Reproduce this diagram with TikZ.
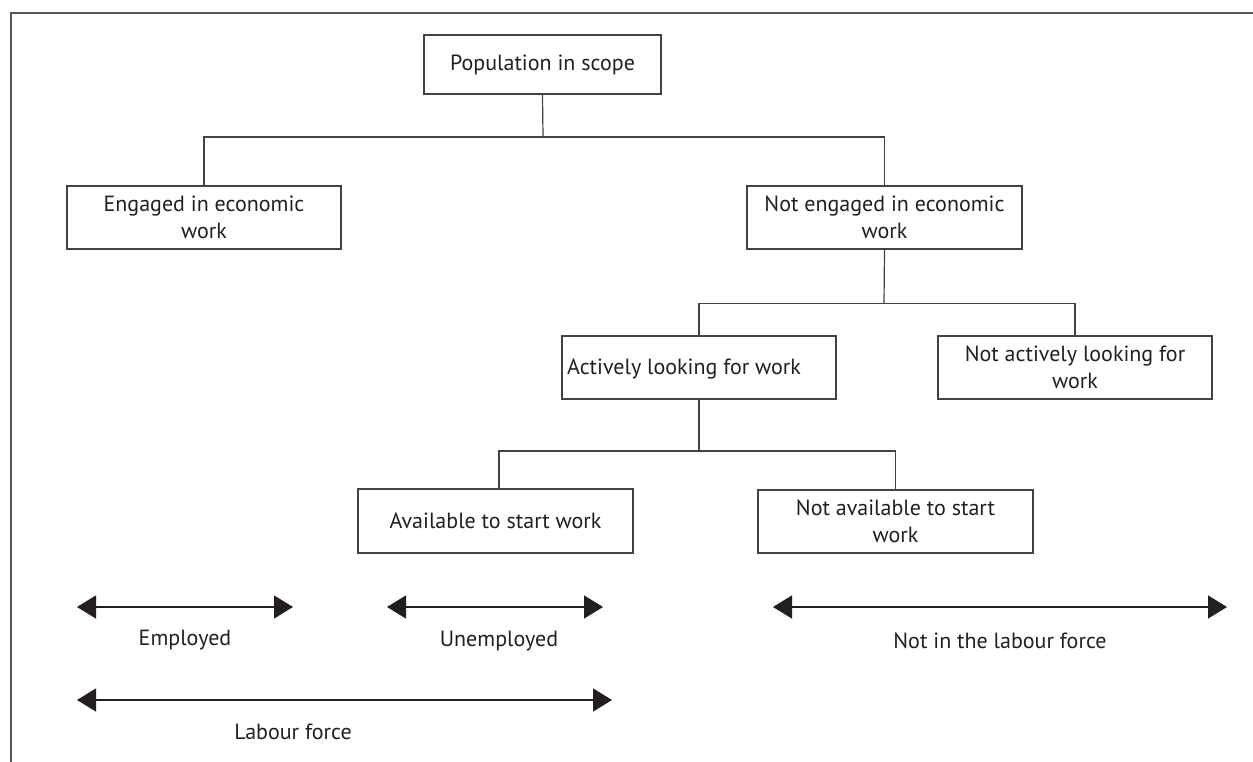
\documentclass[tikz,border=0pt]{standalone}
\usepackage{fontspec}
\setmainfont{PT Sans}
\usetikzlibrary{arrows.meta}
\definecolor{ink}{HTML}{231F20}
\definecolor{framec}{HTML}{555555}
\begin{document}
\begin{tikzpicture}[x=1pt,y=-1pt,
  every node/.style={text=ink,font=\fontsize{22}{27}\selectfont},
  box/.style={draw=ink!85,line width=1.2pt,align=center,inner sep=0pt},
  link/.style={draw=ink!85,line width=1.2pt},
  span/.style={draw=ink,line width=1.3pt,{Triangle[length=19pt,width=23pt]}-{Triangle[length=19pt,width=23pt]}},
  lbl/.style={inner sep=0pt}
]
\useasboundingbox (0,0) rectangle (1253,762);
% frame
\draw[framec,line width=2pt] (11,762) -- (11,13) -- (1253,13);

% boxes
\node[box,minimum width=237pt,minimum height=59pt] (pop) at (542.5,64.5) {Population in scope};
\node[box,minimum width=274pt,minimum height=63pt] (eng) at (204,217.5) {Engaged in economic\\work};
\node[box,minimum width=275pt,minimum height=63pt] (neng) at (884.5,217.5) {Not engaged in economic\\work};
\node[box,minimum width=274pt,minimum height=63pt] (act) at (699,367.5) {};
\node[lbl,anchor=west] (acttext) at (567,369) {Actively looking for work};
\node[box,minimum width=274pt,minimum height=63pt] (nact) at (1075,367.5) {Not actively looking for\\work};
\node[box,minimum width=275pt,minimum height=64pt] (avail) at (495.5,521) {Available to start work};
\node[box,minimum width=275pt,minimum height=63pt] (navail) at (895.5,521.5) {Not available to start\\work};

% connectors
\coordinate (j1) at (543,137);
\coordinate (j2) at (884,303.5);
\coordinate (j3) at (699,451);
\draw[link] (pop.south) -- (j1);
\draw[link] (eng.north) |- (j1) -| (neng.north);
\draw[link] (neng.south) -- (j2);
\draw[link] (act.north) |- (j2) -| (nact.north);
\draw[link] (act.south) -- (j3);
\draw[link] ([xshift=3.5pt]avail.north) |- (j3) -| (navail.north);

% spans
\coordinate (e1) at (77,607); \coordinate (e2) at (293,607);
\coordinate (u1) at (387,607); \coordinate (u2) at (603,607);
\coordinate (n1) at (773,607); \coordinate (n2) at (1227,607);
\coordinate (l1) at (77,700); \coordinate (l2) at (612,700);
\draw[span] (e1) -- (e2);
\draw[span] (u1) -- (u2);
\draw[span] (n1) -- (n2);
\draw[span] (l1) -- (l2);
\node (emp) at (185,640) {Employed};
\node (unemp) at (499,641) {Unemployed};
\node (nilf) at (1000,641) {Not in the labour force};
\node (lf) at (293,732) {Labour force};
\end{tikzpicture}
\end{document}
